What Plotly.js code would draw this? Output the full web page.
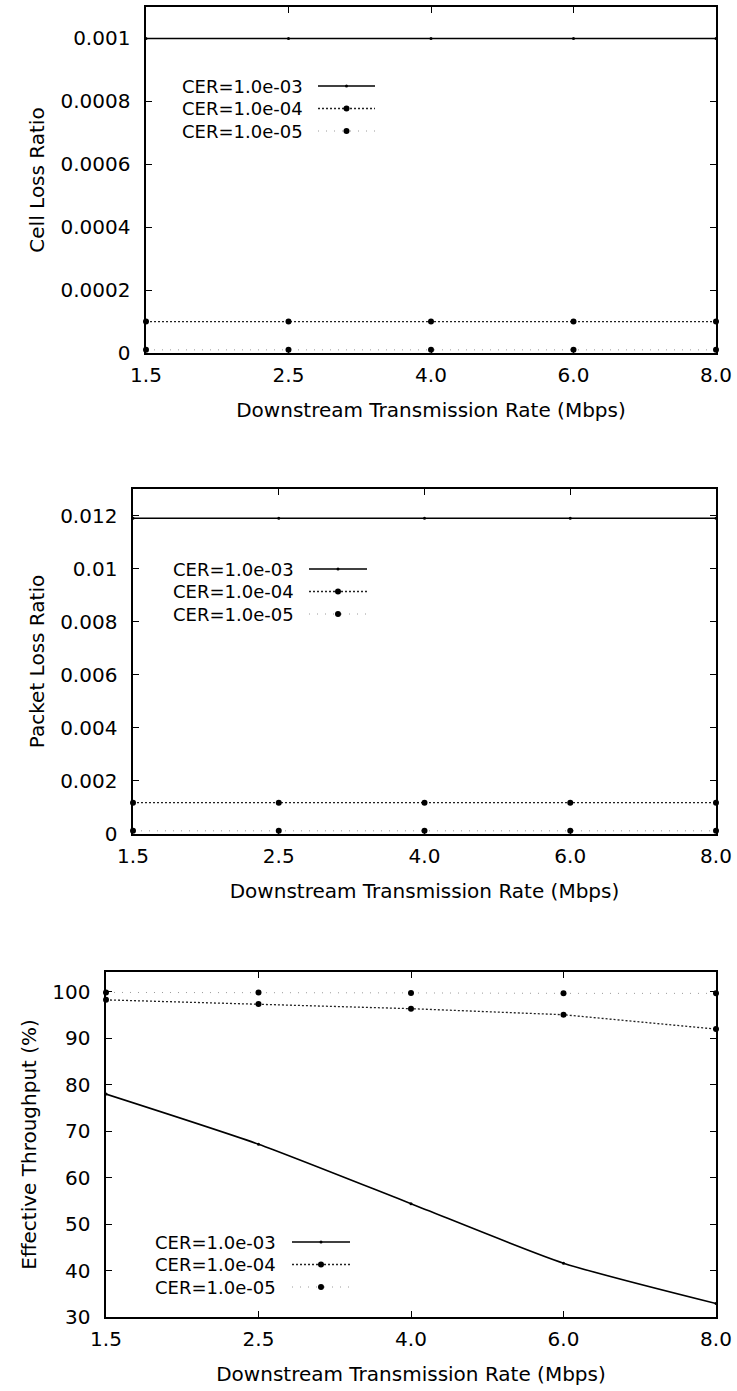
<!DOCTYPE html>
<html>
<head>
<meta charset="utf-8">
<script src="https://cdn.plot.ly/plotly-3.0.1.min.js"></script>
<style>html,body{margin:0;padding:0;background:#fff;}</style>
</head>
<body>
<div id="chart" style="width:737px;height:1391px;"></div>
<script>
// ---- data ----
const rates = ['1.5', '2.5', '4.0', '6.0', '8.0'];
const seriesNames = ['CER=1.0e-03', 'CER=1.0e-04', 'CER=1.0e-05'];

const cellLoss1e3 = [0.001, 0.001, 0.001, 0.001, 0.001];
const cellLoss1e4 = [0.0001, 0.0001, 0.0001, 0.0001, 0.0001];
const cellLoss1e5 = [0.00001, 0.00001, 0.00001, 0.00001, 0.00001];

const pktLoss1e3 = [0.0119, 0.0119, 0.0119, 0.0119, 0.0119];
const pktLoss1e4 = [0.00118, 0.00118, 0.00118, 0.00118, 0.00118];
const pktLoss1e5 = [0.00012, 0.00012, 0.00012, 0.00012, 0.00012];

const thr1e3 = [78.0, 67.2, 54.4, 41.6, 32.9];
const thr1e4 = [98.3, 97.4, 96.4, 95.1, 92.0];
const thr1e5 = [99.9, 99.9, 99.8, 99.7, 99.7];

const cellTickVals = [0, 0.0002, 0.0004, 0.0006, 0.0008, 0.001];
const cellTickText = ['0', '0.0002', '0.0004', '0.0006', '0.0008', '0.001'];
const pktTickVals = [0, 0.002, 0.004, 0.006, 0.008, 0.01, 0.012];
const pktTickText = ['0', '0.002', '0.004', '0.006', '0.008', '0.01', '0.012'];
const thrTickVals = [30, 40, 50, 60, 70, 80, 90, 100];
const thrTickText = ['30', '40', '50', '60', '70', '80', '90', '100'];

const xTitle = 'Downstream Transmission Rate (Mbps)';
const yTitles = ['Cell Loss Ratio', 'Packet Loss Ratio', 'Effective Throughput (%)'];

// ---- styles ----
const FONT = 'DejaVu Sans, Verdana, sans-serif';
const styles = [
  {line: {color: '#000', width: 1.6, dash: 'solid'}, marker: {size: 3, color: '#000'}},
  {line: {color: '#222', width: 1.3, dash: '2px,2px'}, marker: {size: 6, color: '#000'}},
  {line: {color: '#9a9a9a', width: 1.0, dash: '1px,7px'}, marker: {size: 6, color: '#000'}}
];

function mk(y, i, xa, ya, spline) {
  const s = styles[i];
  return {
    x: rates, y: y, name: seriesNames[i], type: 'scatter', mode: 'lines+markers',
    xaxis: xa, yaxis: ya, showlegend: false,
    line: Object.assign({}, s.line, spline ? {shape: 'spline', smoothing: 0.6} : {}),
    marker: Object.assign({symbol: 'circle'}, s.marker),
    cliponaxis: false
  };
}

const data = [
  mk(cellLoss1e3, 0, 'x', 'y'),
  mk(cellLoss1e4, 1, 'x', 'y'),
  mk(cellLoss1e5, 2, 'x', 'y'),
  mk(pktLoss1e3, 0, 'x2', 'y2'),
  mk(pktLoss1e4, 1, 'x2', 'y2'),
  mk(pktLoss1e5, 2, 'x2', 'y2'),
  mk(thr1e3, 0, 'x3', 'y3', true),
  mk(thr1e4, 1, 'x3', 'y3'),
  mk(thr1e5, 2, 'x3', 'y3')
];

const W = 737, H = 1391;
function xax(left, anchor) {
  return {
    domain: [left / W, 716 / W], anchor: anchor, type: 'category',
    categoryorder: 'array', categoryarray: rates, range: [0, 4],
    showline: true, linecolor: '#000', linewidth: 1.6, mirror: 'ticks',
    ticks: 'inside', ticklen: 6, tickcolor: '#000', tickwidth: 1,
    showgrid: false, zeroline: false, automargin: false, ticklabelstandoff: 3,
    tickfont: {family: FONT, size: 20, color: '#000'},
    title: {text: xTitle, font: {family: FONT, size: 20, color: '#000'}, standoff: 17}
  };
}
function yax(top, bottom, range, tv, tt, title, anchor) {
  return {
    domain: [1 - bottom / H, 1 - top / H], anchor: anchor, range: range,
    tickvals: tv, ticktext: tt,
    showline: true, linecolor: '#000', linewidth: 1.6, mirror: 'ticks',
    ticks: 'inside', ticklen: 6, tickcolor: '#000', tickwidth: 1,
    showgrid: false, zeroline: false, automargin: false, ticklabelstandoff: 10,
    tickfont: {family: FONT, size: 20, color: '#000'},
    title: {text: title, font: {family: FONT, size: 20, color: '#000'}, standoff: 10}
  };
}

// ---- in-plot keys (gnuplot style: label, then sample to its right) ----
const KEY_FONT = 18;
const annotations = [];
const shapes = [];
function key(textRight, x0, x1, rows) {
  rows.forEach(function (cy, i) {
    const s = styles[i];
    annotations.push({
      xref: 'paper', yref: 'paper', x: textRight / W, y: 1 - cy / H,
      xanchor: 'right', yanchor: 'middle', showarrow: false,
      text: seriesNames[i], font: {family: FONT, size: KEY_FONT, color: '#000'}
    });
    shapes.push({
      type: 'line', xref: 'paper', yref: 'paper',
      x0: x0 / W, x1: x1 / W, y0: 1 - cy / H, y1: 1 - cy / H,
      line: {color: s.line.color, width: s.line.width, dash: s.line.dash}
    });
    const r = s.marker.size / 2, cx = (x0 + x1) / 2;
    shapes.push({
      type: 'circle', xref: 'paper', yref: 'paper',
      x0: (cx - r) / W, x1: (cx + r) / W, y0: 1 - (cy + r) / H, y1: 1 - (cy - r) / H,
      fillcolor: '#000', line: {width: 0}
    });
  });
}
key(305, 318, 375, [86, 108.5, 131]);
key(296, 309, 367, [569, 591.5, 614]);
key(278, 292, 350, [1242, 1264.5, 1287]);

const layout = {
  width: W, height: H,
  margin: {l: 0, r: 0, t: 0, b: 0},
  paper_bgcolor: '#fff', plot_bgcolor: '#fff',
  showlegend: false,
  font: {family: FONT, color: '#000'},
  xaxis: xax(146, 'y'),
  yaxis: yax(7, 353, [0, 0.0011], cellTickVals, cellTickText, yTitles[0], 'x'),
  xaxis2: xax(133, 'y2'),
  yaxis2: yax(489, 834, [0, 0.013], pktTickVals, pktTickText, yTitles[1], 'x2'),
  xaxis3: xax(106, 'y3'),
  yaxis3: yax(972, 1317, [30, 104.3], thrTickVals, thrTickText, yTitles[2], 'x3'),
  annotations: annotations,
  shapes: shapes
};

Plotly.newPlot('chart', data, layout, {staticPlot: true, displayModeBar: false});
</script>
</body>
</html>
